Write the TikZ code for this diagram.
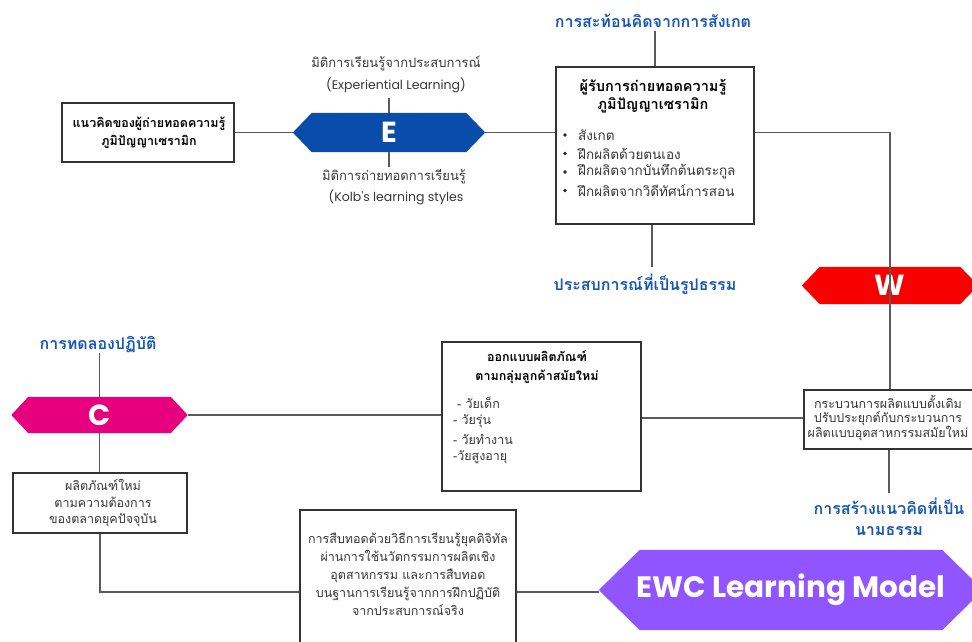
\documentclass[tikz,border=0pt]{standalone}
\usepackage{fontspec}
\setmainfont{Loma}[Script=Thai]
\newfontfamily\latinfont{Poppins}
\usetikzlibrary{backgrounds}
\definecolor{eblue}{RGB}{9,76,170}
\definecolor{wred}{RGB}{248,0,0}
\definecolor{cmag}{RGB}{230,0,126}
\definecolor{ewcpurple}{RGB}{145,85,255}
\definecolor{lblblue}{RGB}{22,86,180}
\definecolor{linegray}{RGB}{90,90,90}
\definecolor{txtgray}{RGB}{55,55,55}
\newcommand\hexfill[3]{%
  \fill[#2] ([xshift=#3]#1.north west) -- ([xshift=-#3]#1.north east) -- (#1.east)
    -- ([xshift=-#3]#1.south east) -- ([xshift=#3]#1.south west) -- (#1.west) -- cycle;}
\begin{document}
\begin{tikzpicture}[x=1pt,y=-1pt,
  bx/.style={draw=black!80, line width=1.1pt, fill=white, inner sep=0pt},
  conn/.style={draw=linegray, line width=1.1pt},
  lbl/.style={text=lblblue, font=\bfseries\fontsize{16}{21}\selectfont, align=center, inner sep=1pt},
  note/.style={text=txtgray, font=\fontsize{12.5}{18}\selectfont, inner sep=1pt},
  notelat/.style={text=txtgray, font=\latinfont\fontsize{12.5}{16}\selectfont, inner sep=1pt},
  body/.style={text=txtgray, font=\fontsize{12.5}{18}\selectfont, inner sep=1pt, align=center},
  bodyb/.style={text=black, font=\bfseries\fontsize{12.5}{18.5}\selectfont, inner sep=1pt, align=center},
  hexnode/.style={inner sep=0pt, text=white, font=\latinfont\bfseries\fontsize{29}{30}\selectfont},
  dot/.style={fill=black!85}
]
\clip (0,0) rectangle (972,642);

% ---- boxes ----
\node[bx, minimum width=172, minimum height=59] (k1) at (148,132.5) {};
\node[bodyb] (k1t) at (149,133) {แนวคิดของผู้ถ่ายทอดความรู้\\ภูมิปัญญาเซรามิก};

\node[bx, minimum width=198, minimum height=157] (k2) at (655,145.5) {};
\node[bodyb, font=\bfseries\fontsize{14.5}{18.5}\selectfont] (k2t) at (653,96) {ผู้รับการถ่ายทอดความรู้\\ภูมิปัญญาเซรามิก};
\node[note, font=\fontsize{13.5}{18}\selectfont, anchor=west] (b1) at (577,135) {สังเกต};
\node[note, font=\fontsize{13.5}{18}\selectfont, anchor=west] (b2) at (577,153.5) {ฝึกผลิตด้วยตนเอง};
\node[note, font=\fontsize{13.5}{18}\selectfont, anchor=west] (b3) at (577,172) {ฝึกผลิตจากบันทึกต้นตระกูล};
\node[note, font=\fontsize{13.5}{18}\selectfont, anchor=west] (b4) at (577,190.5) {ฝึกผลิตจากวิดีทัศน์การสอน};
\foreach \b in {b1,b2,b3,b4} \fill[dot] ([xshift=-12]\b.west) circle (1.8);

\node[bx, minimum width=170, minimum height=59] (gr) at (889,419.5) {};
\node[body, font=\fontsize{12.5}{14.8}\selectfont] (grt) at (888,418) {กระบวนการผลิตแบบดั้งเดิม\\ปรับประยุกต์กับกระบวนการ\\ผลิตแบบอุตสาหกรรมสมัยใหม่};

\node[bx, minimum width=199, minimum height=149] (d) at (541.5,416.5) {};
\node[bodyb] (dt) at (537,367) {ออกแบบผลิตภัณฑ์\\ตามกลุ่มลูกค้าสมัยใหม่};
\node[note, anchor=west] (d1) at (456,403) {- วัยเด็ก};
\node[note, anchor=west] (d2) at (452,421) {- วัยรุ่น};
\node[note, anchor=west] (d3) at (452,439) {- วัยทำงาน};
\node[note, anchor=west] (d4) at (452,457) {-วัยสูงอายุ};

\node[bx, minimum width=174, minimum height=60] (p) at (100,503) {};
\node[body, font=\fontsize{12.5}{16.5}\selectfont] (pt) at (103,503.5) {ผลิตภัณฑ์ใหม่\\ตามความต้องการ\\ของตลาดยุคปัจจุบัน};

\node[bx, minimum width=216, minimum height=164] (s) at (408,592) {};
\node[body] (st) at (408,574) {การสืบทอดด้วยวิธีการเรียนรู้ยุคดิจิทัล\\ผ่านการใช้นวัตกรรมการผลิตเชิง\\อุตสาหกรรม และการสืบทอด\\บนฐานการเรียนรู้จากการฝึกปฏิบัติ\\จากประสบการณ์จริง};

% ---- hexagons ----
\node[hexnode, minimum width=192, minimum height=39] (E) at (389,132.5) {E};
\node[hexnode, minimum width=176, minimum height=37] (W) at (890,285.5) {W};
\node[hexnode, minimum width=176, minimum height=36] (C) at (99.5,415) {C};
\node[hexnode, minimum width=384, minimum height=80, font=\latinfont\bfseries\fontsize{29.5}{30}\selectfont] (ewc) at (791,590) {EWC Learning Model};
\begin{scope}[on background layer]
  \hexfill{E}{eblue}{19}
  \hexfill{W}{wred}{18}
  \hexfill{C}{cmag}{17}
  \hexfill{ewc}{ewcpurple}{41}
\end{scope}

% ---- labels ----
\node[note, font=\fontsize{13}{18}\selectfont] (ea1) at (396,63) {มิติการเรียนรู้จากประสบการณ์};
\node[notelat] (ea2) at (396,85) {(Experiential Learning)};
\node[note, font=\fontsize{13}{18}\selectfont] (eb1) at (394,177) {มิติการถ่ายทอดการเรียนรู้};
\node[notelat] (eb2) at (396,197) {(Kolb's learning styles};
\node[lbl] (t1) at (653,21) {การสะท้อนคิดจากการสังเกต};
\node[lbl] (t2) at (645,284) {ประสบการณ์ที่เป็นรูปธรรม};
\node[lbl] (t3) at (889,516.5) {การสร้างแนวคิดที่เป็น\\นามธรรม};
\node[lbl] (t4) at (98,345) {การทดลองปฏิบัติ};

\coordinate (eTop) at (389,98);
\coordinate (eBot) at (389,167);
\coordinate (k2Top) at (655,31);
\coordinate (k2Bot) at (652,267);
\coordinate (grBot) at (889,493);
\coordinate (cTop) at (99.5,353);

% ---- connectors ----
\draw[conn] (k1.east |- E.west) -- (E.west);
\draw[conn] (E.north) -- (eTop);
\draw[conn] (E.south) -- (eBot);
\draw[conn] (E.east) -- (E.east -| k2.west);
\draw[conn] (k2.north) -- (k2Top);
\draw[conn] (k2.south -| k2Bot) -- (k2Bot);
\draw[conn] (E.east -| k2.east) -- (E.east -| W.center) -- (gr.north -| W.center);
\draw[conn] (gr.south) -- (grBot);
\draw[conn] (gr.west |- 0,418) -- (d.east |- 0,418);
\draw[conn] (C.east) -- (C.east -| d.west);
\draw[conn] (C.north) -- (cTop);
\draw[conn] (C.south) -- (p.north -| C.south);
\draw[conn] (p.south) |- (s.west);
\draw[conn] (s.east) -- (s.east -| ewc.west);
\end{tikzpicture}
\end{document}
